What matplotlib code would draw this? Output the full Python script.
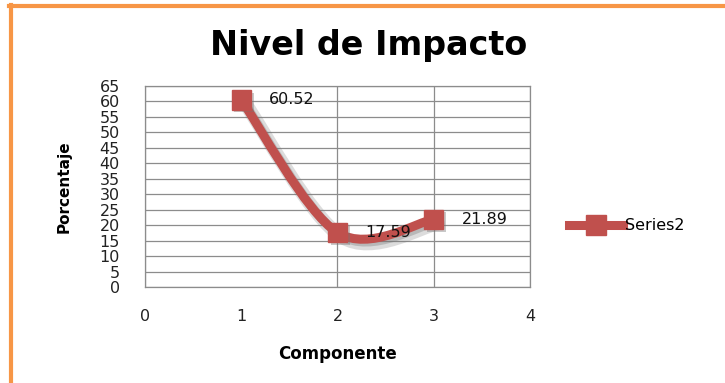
import matplotlib
matplotlib.use("Agg")
import matplotlib.pyplot as plt
import matplotlib.patheffects as pe
from matplotlib.path import Path
from matplotlib.patches import PathPatch
from matplotlib.lines import Line2D

# datos
componente = [1, 2, 3]
porcentaje = [60.52, 17.59, 21.89]
etiquetas = ["60.52", "17.59", "21.89"]
serie = "Series2"
xticks = [0, 1, 2, 3, 4]
yticks = list(range(0, 70, 5))

rojo = "#C0504D"
naranja = "#F79646"

fig = plt.figure(figsize=(7.25, 3.83), dpi=100)
fig.patch.set_facecolor("white")
ax = fig.add_axes([0.2, 0.2507, 0.531, 0.5248])

# curva suavizada (estilo excel) construida con los puntos
def curva(xs, ys):
    pts = list(zip(xs, ys))
    verts = [pts[0]]
    codes = [Path.MOVETO]
    for i in range(len(pts) - 1):
        p0 = pts[i - 1] if i > 0 else pts[i]
        p1 = pts[i]
        p2 = pts[i + 1]
        p3 = pts[i + 2] if i + 2 < len(pts) else pts[i + 1]
        c1 = (p1[0] + (p2[0] - p0[0]) / 6, p1[1] + (p2[1] - p0[1]) / 6)
        c2 = (p2[0] - (p3[0] - p1[0]) / 6, p2[1] - (p3[1] - p1[1]) / 6)
        verts += [c1, c2, p2]
        codes += [Path.CURVE4] * 3
    return Path(verts, codes)

sombra = [pe.SimpleLineShadow(offset=(3, -3), shadow_color="#777777", alpha=0.25, linewidth=10),
          pe.SimpleLineShadow(offset=(2, -2), shadow_color="#777777", alpha=0.35),
          pe.Normal()]
linea = PathPatch(curva(componente, porcentaje), fill=False, edgecolor=rojo, lw=6.5,
                  capstyle="round", joinstyle="round", zorder=3)
linea.set_path_effects(sombra)
ax.add_patch(linea)

ax.plot(componente, porcentaje, linestyle="none", marker="s", ms=14, color=rojo, zorder=4,
        path_effects=[pe.SimplePatchShadow(offset=(2, -2), shadow_rgbFace="#777777", alpha=0.4), pe.Normal()])

for x, y, t in zip(componente, porcentaje, etiquetas):
    ax.annotate(t, (x, y), xytext=(20, 0), textcoords="offset points", va="center",
                fontsize=11.5, color="#111111", zorder=5)

ax.set_xlim(0, 4)
ax.set_ylim(0, 65)
ax.set_xticks(xticks)
ax.set_yticks(yticks)
ax.tick_params(length=0, labelsize=11.5, labelcolor="#222222")
ax.tick_params(axis="y", pad=18)
ax.tick_params(axis="x", pad=16)
ax.grid(True, color="#8c8c8c", lw=0.9)
ax.get_xgridlines()[1].set_visible(False)
ax.set_axisbelow(True)
for s in ax.spines.values():
    s.set_color("#8c8c8c")
    s.set_linewidth(0.9)

ax.set_ylabel("Porcentaje", fontsize=11, fontweight="bold")
ax.yaxis.set_label_coords(-0.19, 0.5)
ax.set_xlabel("Componente", fontsize=12, fontweight="bold")
ax.xaxis.set_label_coords(0.5, -0.29)

fig.text(0.508, 0.8825, "Nivel de Impacto", ha="center", va="center", fontsize=24, fontweight="bold")

h = Line2D([], [], color=rojo, lw=6.5, marker="s", ms=14)
fig.legend([h], [serie], loc="center left", bbox_to_anchor=(0.785, 0.41), frameon=False,
           fontsize=11.5, handlelength=3.4, handletextpad=0.1, borderpad=0, borderaxespad=0)

# borde naranja
fig.add_artist(Line2D([0.012, 1], [0.984, 0.984], color=naranja, lw=3, transform=fig.transFigure))
fig.add_artist(Line2D([0.015, 0.015], [0, 0.986], color=naranja, lw=3, transform=fig.transFigure))

fig.savefig("out.png", dpi=100)
